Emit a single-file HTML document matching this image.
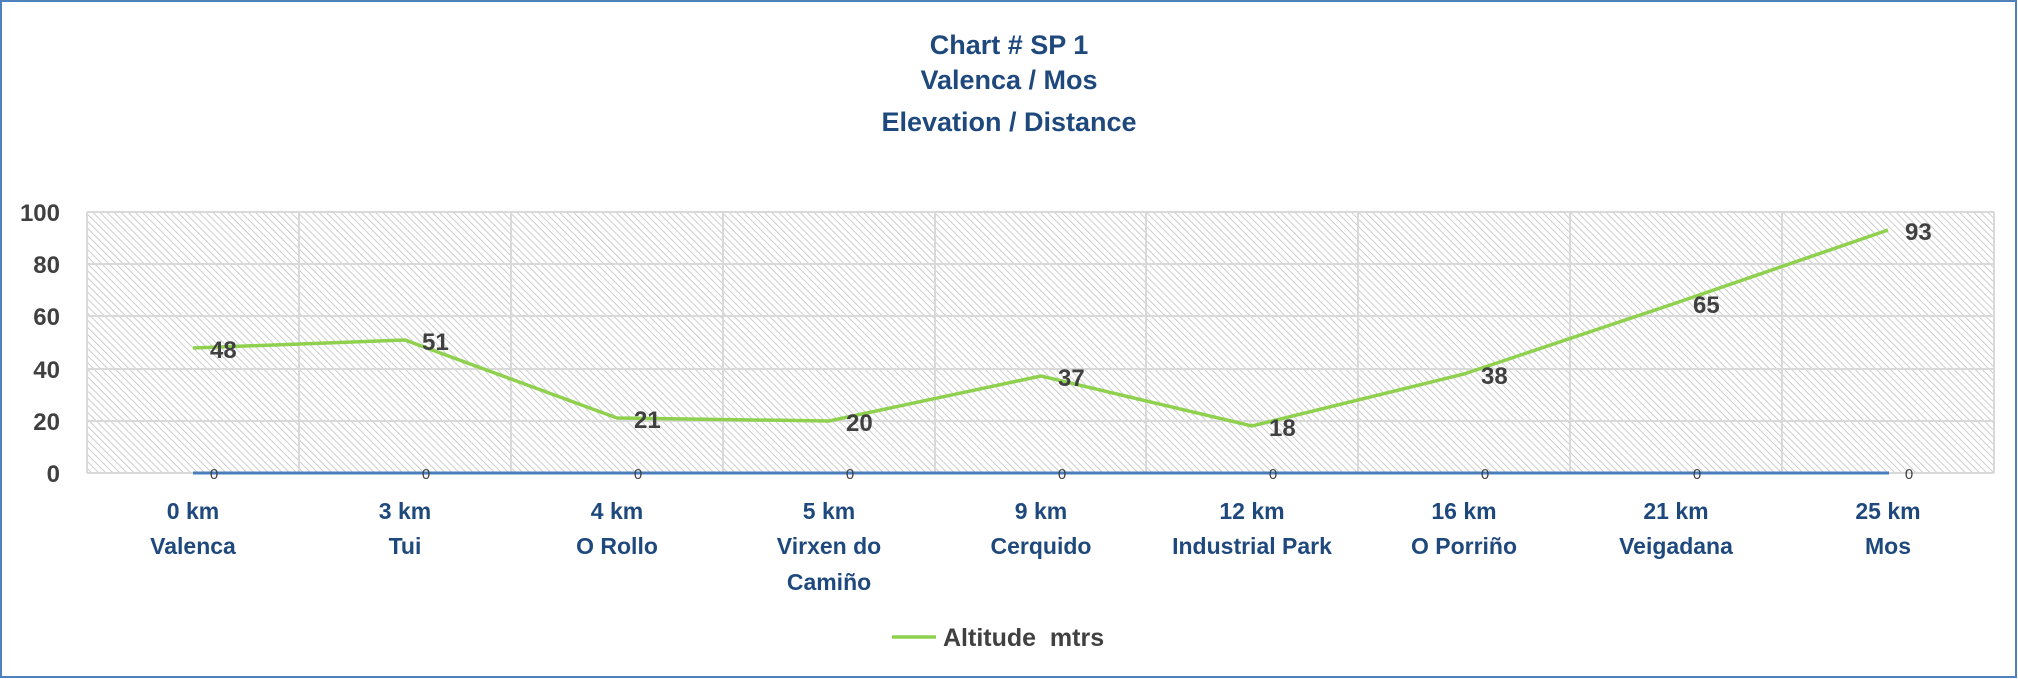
<!DOCTYPE html>
<html><head><meta charset="utf-8"><style>
body{margin:0;background:#fff}
svg{display:block;font-family:"Liberation Sans",sans-serif}
</style></head><body>
<svg width="2018" height="679" viewBox="0 0 2018 679">
<defs>
<pattern id="h" width="5" height="5" patternUnits="userSpaceOnUse" patternTransform="rotate(-45)">
<rect width="5" height="5" fill="#fff"/>
<line x1="0" y1="0" x2="0" y2="5" stroke="#c8c8c8" stroke-width="1.8"/>
</pattern>
</defs>
<rect x="1" y="1" width="2015" height="676" fill="#fff" stroke="#4f81bd" stroke-width="2"/>
<g fill="#1f497d" font-weight="bold" font-size="27" text-anchor="middle">
<text x="1009" y="54">Chart # SP 1</text>
<text x="1009" y="89">Valenca / Mos</text>
<text x="1009" y="131">Elevation / Distance</text>
</g>
<rect x="87" y="212" width="1907" height="261" fill="url(#h)"/>
<g stroke="#d9d9d9" stroke-width="2" fill="none">
<line x1="87" y1="212" x2="1994" y2="212"/>
<line x1="87" y1="264" x2="1994" y2="264"/>
<line x1="87" y1="316" x2="1994" y2="316"/>
<line x1="87" y1="369" x2="1994" y2="369"/>
<line x1="87" y1="421" x2="1994" y2="421"/>
<line x1="87" y1="473" x2="1994" y2="473"/>
<line x1="87" y1="212" x2="87" y2="473"/>
<line x1="299" y1="212" x2="299" y2="473"/>
<line x1="511" y1="212" x2="511" y2="473"/>
<line x1="723" y1="212" x2="723" y2="473"/>
<line x1="935" y1="212" x2="935" y2="473"/>
<line x1="1146" y1="212" x2="1146" y2="473"/>
<line x1="1358" y1="212" x2="1358" y2="473"/>
<line x1="1570" y1="212" x2="1570" y2="473"/>
<line x1="1782" y1="212" x2="1782" y2="473"/>
<line x1="1994" y1="212" x2="1994" y2="473"/>
</g>
<g fill="#404040" font-weight="bold" font-size="24" text-anchor="end">
<text x="60" y="221">100</text>
<text x="60" y="273">80</text>
<text x="60" y="325">60</text>
<text x="60" y="378">40</text>
<text x="60" y="430">20</text>
<text x="60" y="482">0</text>
</g>
<line x1="193" y1="473" x2="1889" y2="473" stroke="#4a7ebb" stroke-width="3"/>
<polyline fill="none" stroke="#8fd14f" stroke-width="3.5" points="193,348 405,340 617,418 829,421 1041,376 1252,426 1464,374 1676,303 1888,230"/>
<g fill="#404040" font-size="15" text-anchor="middle">
<text x="214" y="479">0</text><text x="426" y="479">0</text><text x="638" y="479">0</text><text x="850" y="479">0</text><text x="1062" y="479">0</text><text x="1273" y="479">0</text><text x="1485" y="479">0</text><text x="1697" y="479">0</text><text x="1909" y="479">0</text>
</g>
<g fill="#404040" font-weight="bold" font-size="24">
<text x="210" y="358">48</text>
<text x="422" y="350">51</text>
<text x="634" y="428">21</text>
<text x="846" y="431">20</text>
<text x="1058" y="386">37</text>
<text x="1269" y="436">18</text>
<text x="1481" y="384">38</text>
<text x="1693" y="313">65</text>
<text x="1905" y="240">93</text>
</g>
<g fill="#1f497d" font-weight="bold" font-size="23" text-anchor="middle">
<text x="193" y="519">0 km</text><text x="193" y="554">Valenca</text>
<text x="405" y="519">3 km</text><text x="405" y="554">Tui</text>
<text x="617" y="519">4 km</text><text x="617" y="554">O Rollo</text>
<text x="829" y="519">5 km</text><text x="829" y="554">Virxen do</text><text x="829" y="590">Camiño</text>
<text x="1041" y="519">9 km</text><text x="1041" y="554">Cerquido</text>
<text x="1252" y="519">12 km</text><text x="1252" y="554">Industrial Park</text>
<text x="1464" y="519">16 km</text><text x="1464" y="554">O Porriño</text>
<text x="1676" y="519">21 km</text><text x="1676" y="554">Veigadana</text>
<text x="1888" y="519">25 km</text><text x="1888" y="554">Mos</text>
</g>
<line x1="892" y1="637" x2="936" y2="637" stroke="#8fd14f" stroke-width="3.5"/>
<text x="943" y="646" fill="#404040" font-weight="bold" font-size="25" xml:space="preserve">Altitude  mtrs</text>
</svg>
</body></html>
